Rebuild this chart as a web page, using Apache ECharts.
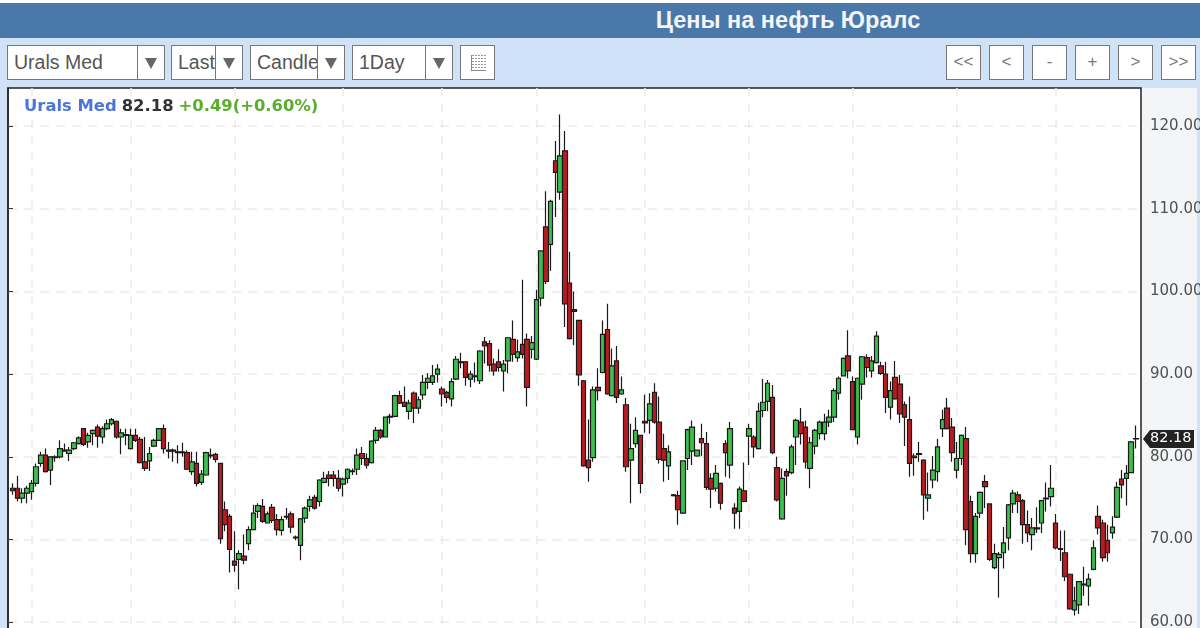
<!DOCTYPE html>
<html>
<head>
<meta charset="utf-8">
<title>Цены на нефть Юралс</title>
<script src="https://cdn.jsdelivr.net/npm/echarts@6/dist/echarts.min.js"></script>
<style>
  html, body { margin: 0; padding: 0; }
  body { width: 1200px; height: 628px; overflow: hidden; position: relative; background: #fff; font-family: "Liberation Sans", sans-serif; }
  .header { position: absolute; left: 0; top: 3px; width: 1200px; height: 35px; background: #4a78a8; color: #f2f5f9; font-size: 23.5px; font-weight: bold; line-height: 34px; text-align: center; text-indent: 376px; }
  .toolbar { position: absolute; left: 0; top: 38px; width: 1200px; height: 590px; background: #cfe2f7; }
  .axis-band { position: absolute; left: 1141px; top: 88px; width: 56px; height: 540px; background: #f3f5f7; }
  .box { position: absolute; top: 45px; height: 33px; line-height: 33px; background: #fff; border: 1px solid #777; box-sizing: content-box; color: #555; font-size: 19.5px; overflow: hidden; white-space: nowrap; }
  .box span { position: absolute; left: 6px; top: 0; }
  .box i { position: absolute; top: 0; bottom: 0; background: #fff; border-left: 1px solid #777; right: 0; }
  .box i::after { content: ""; position: absolute; left: 7px; top: 12px; border-left: 6px solid transparent; border-right: 6px solid transparent; border-top: 11px solid #666; }
  .btn { position: absolute; top: 45px; width: 33px; height: 33px; line-height: 31px; background: #fff; border: 1px solid #777; text-align: center; color: #777; font-size: 17px; }
  .icon { position: absolute; left: 10px; top: 9px; width: 14px; height: 15px; border-left: 1px solid #888; border-bottom: 1px solid #888; background: repeating-linear-gradient(90deg, transparent 0 2px, #fff 2px 3px), repeating-linear-gradient(#999 0 1px, #fff 1px 3px); }
  #chart { position: absolute; left: 0; top: 0; width: 1200px; height: 628px; }
</style>
</head>
<body>
<div class="toolbar"></div>
<div class="header">Цены на нефть Юралс</div>
<div class="axis-band"></div>
<div class="box" style="left:7px;width:156px"><span>Urals Med</span><i style="width:26px"></i></div>
<div class="box" style="left:171px;width:70px"><span>Last</span><i style="width:26px"></i></div>
<div class="box" style="left:250px;width:93px"><span>Candle</span><i style="width:26px"></i></div>
<div class="box" style="left:352px;width:99px"><span>1Day</span><i style="width:26px"></i></div>
<div class="btn" style="left:460px"><div class="icon"></div></div>
<div class="btn" style="left:946px">&lt;&lt;</div>
<div class="btn" style="left:989px">&lt;</div>
<div class="btn" style="left:1032px">-</div>
<div class="btn" style="left:1075px">+</div>
<div class="btn" style="left:1118px">&gt;</div>
<div class="btn" style="left:1161px">&gt;&gt;</div>
<div id="chart"></div>

<script>
const opens = [
  76.2, 76.2, 75.0, 75.6, 75.8, 76.8, 79.2, 80.2, 78.4, 79.9,
  80.0, 80.7, 80.4, 81.0, 81.6, 83.4, 81.8, 82.8, 83.6, 82.4,
  83.4, 84.0, 84.3, 82.4, 82.6, 81.0, 82.6, 82.1, 79.4, 79.5,
  81.3, 82.0, 83.4, 80.8, 80.8, 80.6, 80.5, 80.5, 78.2, 79.2,
  76.9, 77.8, 80.2, 80.3, 79.2, 73.6, 72.8, 67.4, 67.6, 68.0,
  69.5, 71.2, 73.4, 74.0, 72.0, 73.9, 72.4, 71.1, 72.7, 73.1,
  70.3, 69.3, 72.6, 74.0, 75.1, 74.6, 76.9, 77.8, 77.8, 77.4,
  76.7, 77.4, 78.3, 78.5, 80.4, 79.8, 79.3, 82.0, 83.2, 82.4,
  84.8, 84.9, 87.4, 86.6, 85.5, 87.7, 85.9, 87.5, 89.0, 89.0,
  90.0, 88.2, 87.8, 87.0, 89.4, 91.5, 91.5, 89.4, 89.7, 89.2,
  93.9, 93.7, 91.2, 91.5, 90.4, 91.6, 94.2, 92.0, 93.6, 94.2,
  93.0, 91.8, 99.2, 107.8, 105.7, 115.8, 112.0, 117.0, 101.0, 97.8,
  96.5, 89.2, 79.6, 79.9, 88.4, 90.2, 95.4, 87.4, 91.6, 87.6,
  86.3, 79.6, 81.6, 82.6, 84.3, 84.4, 87.8, 84.2, 81.0, 78.9,
  75.4, 75.3, 73.2, 79.8, 80.7, 80.1, 82.2, 81.6, 77.4, 76.2,
  76.8, 81.6, 79.0, 73.8, 73.4, 75.9, 82.5, 82.4, 81.0, 85.6,
  86.7, 87.2, 78.7, 72.5, 78.2, 78.1, 82.4, 84.2, 83.6, 78.6,
  81.3, 82.8, 82.8, 84.2, 84.8, 87.7, 89.8, 92.2, 89.1, 82.4,
  88.8, 92.0, 90.4, 91.4, 91.0, 90.0, 86.0, 89.6, 88.8, 86.3,
  84.5, 80.1, 80.4, 79.6, 75.0, 77.2, 78.2, 83.4, 85.9, 83.6,
  78.4, 79.8, 82.2, 74.6, 68.3, 73.2, 77.0, 74.3, 66.6, 67.8,
  68.4, 70.2, 74.3, 75.4, 74.7, 71.8, 70.6, 71.4, 72.0, 75.0,
  75.2, 72.0, 68.9, 68.4, 65.8, 61.5, 62.1, 64.6, 64.4, 66.4,
  72.8, 72.0, 69.9, 70.8, 72.7, 77.3, 77.4, 78.1, 82.2
];
const closes = [
  75.9, 75.0, 75.6, 76.2, 76.8, 78.8, 80.2, 78.2, 80.0, 80.0,
  81.0, 80.8, 80.8, 81.7, 82.3, 81.5, 82.6, 83.2, 82.5, 83.4,
  84.0, 84.5, 82.4, 82.9, 82.7, 82.6, 82.0, 79.3, 78.6, 80.4,
  82.0, 83.4, 81.0, 80.7, 80.7, 80.5, 80.6, 78.5, 79.4, 76.8,
  77.9, 80.5, 80.1, 79.7, 70.1, 71.8, 68.8, 66.9, 68.3, 67.5,
  71.2, 73.2, 74.1, 72.2, 73.1, 72.3, 71.2, 72.4, 72.8, 71.5,
  70.2, 72.5, 73.8, 74.8, 73.8, 77.2, 77.4, 77.4, 77.4, 76.2,
  77.3, 78.5, 78.2, 80.2, 79.8, 79.0, 81.9, 83.2, 82.4, 84.8,
  84.9, 87.4, 86.5, 86.1, 86.5, 85.9, 86.9, 89.0, 89.5, 89.8,
  90.6, 87.6, 87.2, 89.1, 91.8, 91.4, 89.6, 90.0, 89.8, 92.8,
  93.4, 91.1, 90.4, 90.8, 91.2, 94.4, 92.4, 92.7, 92.4, 88.4,
  93.8, 99.0, 104.9, 101.2, 110.9, 114.4, 116.4, 98.5, 94.3, 97.6,
  89.9, 78.9, 78.7, 88.1, 88.0, 94.8, 87.6, 91.0, 87.2, 88.1,
  78.8, 81.0, 83.2, 76.8, 84.1, 86.4, 84.2, 79.7, 79.6, 80.6,
  75.3, 73.6, 79.5, 83.3, 83.6, 80.8, 81.7, 76.3, 76.1, 78.0,
  74.4, 80.5, 83.4, 73.2, 76.1, 74.6, 83.4, 81.2, 85.5, 86.6,
  88.9, 80.5, 74.8, 77.4, 77.7, 81.2, 84.4, 82.8, 79.4, 81.7,
  83.2, 84.2, 84.2, 84.8, 88.0, 89.5, 91.9, 90.4, 83.3, 89.5,
  92.1, 90.8, 91.6, 94.6, 90.1, 87.2, 88.0, 87.0, 85.2, 84.8,
  79.2, 79.9, 80.3, 75.4, 75.4, 78.4, 81.2, 84.5, 83.4, 80.5,
  79.8, 82.6, 71.2, 68.3, 72.8, 75.7, 76.4, 67.6, 68.3, 68.2,
  69.6, 74.2, 75.6, 74.6, 71.8, 70.8, 71.4, 71.3, 74.7, 74.9,
  76.2, 69.0, 68.8, 65.5, 61.6, 62.6, 64.9, 64.5, 65.2, 69.0,
  71.4, 67.8, 68.4, 71.5, 76.3, 76.6, 78.0, 81.8, 82.18
];
const lows = [
  75.4, 74.6, 74.4, 74.4, 74.8, 76.4, 78.8, 78.1, 76.6, 79.4,
  79.8, 80.7, 79.5, 80.8, 81.5, 81.3, 81.1, 81.4, 81.1, 81.6,
  83.2, 83.8, 82.2, 80.3, 81.4, 80.9, 81.8, 79.2, 78.3, 78.3,
  81.2, 82.0, 80.4, 79.8, 79.4, 79.2, 80.0, 78.4, 77.8, 76.4,
  76.6, 77.7, 79.8, 79.3, 69.5, 71.0, 66.0, 66.1, 64.0, 67.0,
  68.7, 71.2, 72.6, 72.0, 72.0, 72.0, 70.5, 70.5, 72.4, 70.8,
  69.9, 67.5, 72.0, 73.4, 73.6, 74.0, 76.8, 76.4, 76.4, 75.8,
  75.2, 76.8, 77.8, 77.8, 79.0, 78.6, 79.2, 81.6, 82.2, 82.4,
  84.0, 84.8, 86.4, 86.1, 84.5, 84.1, 85.2, 86.9, 88.2, 88.7,
  89.0, 86.1, 86.5, 86.1, 89.3, 90.7, 88.6, 88.4, 89.0, 88.8,
  91.3, 90.3, 89.8, 90.3, 87.9, 90.1, 91.5, 91.5, 91.9, 86.1,
  91.9, 91.7, 98.2, 100.9, 102.5, 109.0, 111.1, 95.7, 94.2, 93.5,
  88.6, 78.8, 77.0, 79.4, 86.8, 90.1, 87.5, 87.3, 86.5, 87.5,
  78.2, 74.4, 81.1, 75.6, 82.9, 82.8, 84.0, 79.2, 77.0, 77.2,
  75.2, 71.8, 73.1, 78.4, 79.0, 80.0, 80.1, 76.0, 73.8, 75.8,
  73.6, 77.6, 77.4, 71.3, 71.3, 74.5, 79.0, 79.9, 80.9, 84.8,
  85.5, 80.3, 74.6, 72.4, 75.3, 77.9, 79.0, 81.5, 78.6, 76.2,
  80.3, 82.1, 82.0, 83.6, 84.2, 86.9, 89.7, 89.5, 83.2, 81.5,
  86.9, 89.6, 89.6, 91.3, 89.9, 85.3, 84.5, 86.9, 84.1, 81.3,
  77.6, 77.7, 79.4, 72.4, 73.4, 76.2, 77.0, 82.4, 83.3, 79.4,
  77.4, 79.0, 69.3, 67.2, 67.2, 72.6, 73.8, 67.4, 66.4, 63.0,
  66.5, 68.7, 73.2, 73.2, 69.5, 69.7, 68.7, 70.8, 70.8, 73.4,
  74.0, 68.8, 67.4, 65.0, 61.5, 60.8, 61.0, 63.2, 62.0, 66.3,
  70.6, 67.3, 67.3, 70.1, 72.6, 75.0, 74.1, 78.0, 81.0
];
const highs = [
  76.8, 77.7, 76.2, 76.5, 77.2, 79.2, 80.6, 81.0, 80.1, 80.2,
  82.0, 81.6, 81.2, 81.8, 82.5, 83.4, 82.9, 83.3, 83.9, 83.7,
  84.5, 84.7, 84.4, 83.4, 83.4, 83.4, 83.4, 82.4, 82.4, 81.2,
  82.2, 83.4, 83.9, 81.8, 81.0, 81.4, 81.7, 80.8, 80.6, 80.6,
  78.4, 80.6, 81.0, 80.5, 79.2, 74.6, 73.1, 71.0, 68.7, 70.6,
  71.6, 74.2, 74.4, 74.9, 73.4, 74.3, 73.1, 72.8, 73.8, 73.4,
  70.5, 72.6, 74.0, 75.3, 75.4, 77.3, 78.2, 78.3, 78.3, 78.4,
  77.5, 78.6, 78.6, 81.0, 81.2, 80.4, 82.0, 83.6, 83.4, 84.8,
  85.2, 87.5, 88.0, 88.5, 86.9, 87.9, 87.3, 89.9, 90.1, 91.1,
  91.2, 88.5, 88.0, 89.5, 92.2, 92.6, 91.6, 90.4, 91.4, 92.9,
  94.5, 94.1, 91.9, 93.0, 91.7, 94.4, 96.5, 94.2, 101.4, 94.9,
  94.6, 100.2, 104.9, 112.1, 111.1, 118.2, 121.4, 119.4, 104.8, 100.0,
  96.5, 89.3, 84.5, 88.5, 90.7, 96.5, 98.5, 93.1, 93.4, 89.7,
  87.1, 84.0, 84.8, 82.6, 87.5, 87.7, 88.9, 87.3, 82.8, 81.4,
  75.5, 75.9, 79.6, 83.4, 84.4, 80.9, 84.0, 83.0, 78.0, 79.0,
  76.9, 82.0, 84.2, 74.4, 76.4, 79.3, 84.0, 82.6, 86.5, 89.4,
  89.3, 88.7, 80.0, 78.6, 78.6, 81.5, 84.6, 85.9, 84.4, 82.4,
  83.4, 84.4, 85.2, 85.7, 88.3, 89.7, 92.0, 95.3, 89.7, 89.6,
  92.2, 92.4, 92.2, 95.2, 91.5, 91.5, 89.1, 91.6, 89.9, 86.7,
  87.3, 80.4, 81.8, 79.7, 78.1, 80.1, 82.2, 85.7, 87.1, 84.7,
  81.8, 82.7, 83.6, 75.3, 73.2, 75.8, 77.8, 74.4, 69.5, 68.5,
  71.5, 74.3, 76.0, 75.8, 74.9, 73.5, 72.6, 73.9, 74.8, 76.9,
  79.0, 73.1, 71.1, 71.1, 65.9, 64.3, 65.0, 66.7, 65.9, 69.9,
  74.1, 72.4, 71.8, 72.8, 77.0, 78.4, 79.0, 81.9, 83.8
];
const yTicks = [60, 70, 80, 90, 100, 110, 120];
const gridDays = [4, 25, 47, 70, 91, 111, 134, 156, 178, 200, 221];
const lastPrice = "82.18";

const days = opens.map((v, i) => i);
const candles = opens.map((v, i) => [v, closes[i], lows[i], highs[i]]);

const yMin = 59.06;
const yMax = 124.6;
const chartFont = "DejaVu Sans";

let chart = echarts.init(document.getElementById("chart"));
let option = {
  animation: false,
  title: {
    left: 19,
    top: 93,
    text: "{name|Urals Med} {price|82.18} {change|+0.49(+0.60%)}",
    textStyle: {
      rich: {
        name: { color: "#4a76d8", fontFamily: chartFont, fontWeight: "bold", fontSize: 16.4 },
        price: { color: "#333", fontFamily: chartFont, fontWeight: "bold", fontSize: 16.4 },
        change: { color: "#5aae2c", fontFamily: chartFont, fontWeight: "bold", fontSize: 16.4 },
      },
    },
  },
  grid: [
    // candles, placed so each one sits on its day
    { left: 10.24, width: 1128, top: 88, height: 542, outerBoundsMode: "none" },
    // frame with the price axis
    {
      left: 8,
      width: 1133,
      top: 88,
      height: 542,
      outerBoundsMode: "none",
      show: true,
      backgroundColor: "#fff",
      borderColor: "#222",
      borderWidth: 1.5,
    },
  ],
  xAxis: [
    {
      type: "category",
      gridIndex: 0,
      data: days,
      axisLine: { show: false },
      axisTick: { show: false },
      axisLabel: { show: false },
      splitLine: {
        show: true,
        alignWithLabel: true,
        interval: (index) => gridDays.includes(index),
        lineStyle: { color: "#ebebeb", type: [8, 8], width: 1.5 },
      },
    },
    { type: "value", gridIndex: 1, show: false, min: 0, max: 1 },
  ],
  yAxis: [
    { type: "value", gridIndex: 0, show: false, min: yMin, max: yMax, splitLine: { show: false } },
    {
      type: "value",
      gridIndex: 1,
      position: "right",
      min: yMin,
      max: yMax,
      axisLine: { show: true, lineStyle: { color: "#222", width: 1.5 } },
      axisTick: { show: true, length: 5, customValues: yTicks, lineStyle: { color: "#333" } },
      axisLabel: {
        customValues: yTicks,
        margin: 9,
        color: "#4f4f4f",
        fontFamily: chartFont,
        fontSize: 15,
        formatter: (value) => value.toFixed(2),
      },
      splitLine: {
        show: true,
        lineStyle: { color: "#ebebeb", type: [9, 7], width: 1.5 },
      },
    },
  ],
  series: [
    {
      type: "candlestick",
      xAxisIndex: 0,
      yAxisIndex: 0,
      barWidth: 5,
      data: candles,
      itemStyle: {
        color: "#3cbf4e",
        color0: "#b81c22",
        borderColor: "#1a1a1a",
        borderColor0: "#1a1a1a",
        borderWidth: 1.2,
      },
      z: 5,
    },
  ],
  graphic: [
    {
      type: "polygon",
      z: 20,
      shape: { points: [[1143, 439], [1150, 430], [1194, 430], [1194, 448], [1150, 448]] },
      style: { fill: "#222" },
    },
    {
      type: "text",
      z: 21,
      x: 1150,
      y: 431,
      style: { text: lastPrice, fill: "#fff", fontFamily: chartFont, fontSize: 14.5 },
    },
  ],
};
chart.setOption(option);
</script>
</body>
</html>
